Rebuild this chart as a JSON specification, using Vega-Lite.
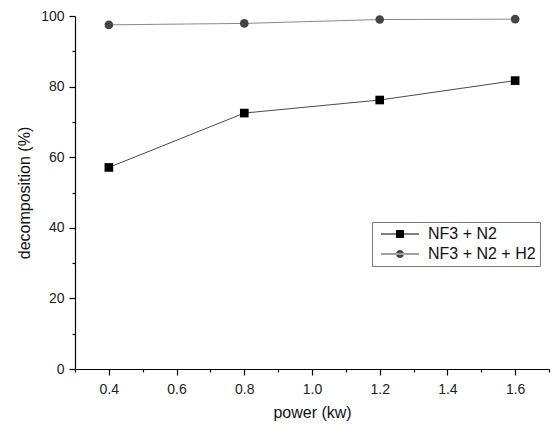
{
  "$schema": "https://vega.github.io/schema/vega-lite/v6.json",
  "width": 474,
  "height": 353,
  "autosize": {"type": "none"},
  "padding": {"left": 75, "top": 16, "right": 4, "bottom": 58},
  "background": "white",
  "config": {
    "font": "Liberation Sans",
    "view": {"stroke": null},
    "axis": {"grid": false, "domainColor": "#000", "tickColor": "#000", "labelColor": "#222", "titleColor": "#111", "titleFontWeight": "normal", "labelFont": "Liberation Sans", "titleFont": "Liberation Sans"}
  },
  "data": {
    "values": [
      {"power": 0.4, "decomposition": 57.1, "series": "NF3 + N2"},
      {"power": 0.8, "decomposition": 72.5, "series": "NF3 + N2"},
      {"power": 1.2, "decomposition": 76.2, "series": "NF3 + N2"},
      {"power": 1.6, "decomposition": 81.7, "series": "NF3 + N2"},
      {"power": 0.4, "decomposition": 97.5, "series": "NF3 + N2 + H2"},
      {"power": 0.8, "decomposition": 97.9, "series": "NF3 + N2 + H2"},
      {"power": 1.2, "decomposition": 99.0, "series": "NF3 + N2 + H2"},
      {"power": 1.6, "decomposition": 99.1, "series": "NF3 + N2 + H2"}
    ]
  },
  "layer": [
    {
      "mark": {"type": "line", "strokeWidth": 1},
      "encoding": {
        "x": {"field": "power", "type": "quantitative", "scale": {"domain": [0.3, 1.7], "nice": false, "zero": false},
          "axis": {"orient": "bottom", "values": [0.4, 0.6, 0.8, 1.0, 1.2, 1.4, 1.6], "format": ".1f", "tickSize": 6, "labelFontSize": 14, "labelPadding": 7, "title": "power (kw)", "titleFontSize": 16, "titlePadding": 8, "domainWidth": 1.2, "tickWidth": 1.2}},
        "y": {"field": "decomposition", "type": "quantitative", "scale": {"domain": [0, 100], "nice": false},
          "axis": {"orient": "left", "values": [0, 20, 40, 60, 80, 100], "tickSize": 6, "labelFontSize": 14, "labelPadding": 5, "title": "decomposition (%)", "titleFontSize": 16, "titlePadding": 8, "domainWidth": 1.2, "tickWidth": 1.2}},
        "stroke": {"field": "series", "type": "nominal", "scale": {"range": ["#4a4a4a", "#8a8a8a"]}, "legend": null}
      }
    },
    {
      "mark": {"type": "point", "filled": true, "opacity": 1, "size": 75},
      "encoding": {
        "x": {"field": "power", "type": "quantitative",
          "axis": {"orient": "bottom", "values": [0.3, 0.5, 0.7, 0.9, 1.1, 1.3, 1.5, 1.7], "labels": false, "domain": false, "tickSize": 3, "title": null, "tickWidth": 1.2}},
        "y": {"field": "decomposition", "type": "quantitative",
          "axis": {"orient": "left", "values": [10, 30, 50, 70, 90], "labels": false, "domain": false, "tickSize": 3, "title": null, "tickWidth": 1.2}},
        "shape": {"field": "series", "type": "nominal", "scale": {"range": ["square", "circle"]}, "legend": null},
        "fill": {"field": "series", "type": "nominal", "scale": {"range": ["#000000", "#444444"]}, "legend": null}
      }
    },
    {
      "transform": [{"filter": "datum.power < 0"}],
      "mark": {"type": "point", "filled": true, "opacity": 1},
      "encoding": {
        "x": {"field": "power", "type": "quantitative", "axis": null},
        "y": {"field": "decomposition", "type": "quantitative", "axis": null},
        "shape": {"field": "series", "type": "nominal",
          "scale": {"domain": ["NF3 + N2", "NF3 + N2 + H2"], "range": ["M-4.75,-0.13H4.75V0.13H-4.75ZM-1,-1H1V1H-1Z", "M-4.75,-0.13H4.75V0.13H-4.75ZM-1,0A1,1,0,1,0,1,0A1,1,0,1,0,-1,0Z"]},
          "legend": {"title": null, "orient": "none", "legendX": 297, "legendY": 206, "padding": 4, "strokeColor": "#777", "symbolSize": 64, "symbolOffset": 16, "labelOffset": 20, "labelFontSize": 16, "labelColor": "#111", "rowPadding": 4, "labelExpr": "datum.label + '\u00a0\u00a0'"}},
        "fill": {"field": "series", "type": "nominal",
          "scale": {"domain": ["NF3 + N2", "NF3 + N2 + H2"], "range": ["#000000", "#444444"]},
          "legend": {"title": null, "orient": "none", "legendX": 297, "legendY": 206, "padding": 4, "strokeColor": "#777", "symbolSize": 64, "symbolOffset": 16, "labelOffset": 20, "labelFontSize": 16, "labelColor": "#111", "rowPadding": 4, "labelExpr": "datum.label + '\u00a0\u00a0'"}}
      }
    }
  ],
  "resolve": {"scale": {"shape": "independent", "fill": "independent"}, "axis": {"x": "independent", "y": "independent"}}
}
